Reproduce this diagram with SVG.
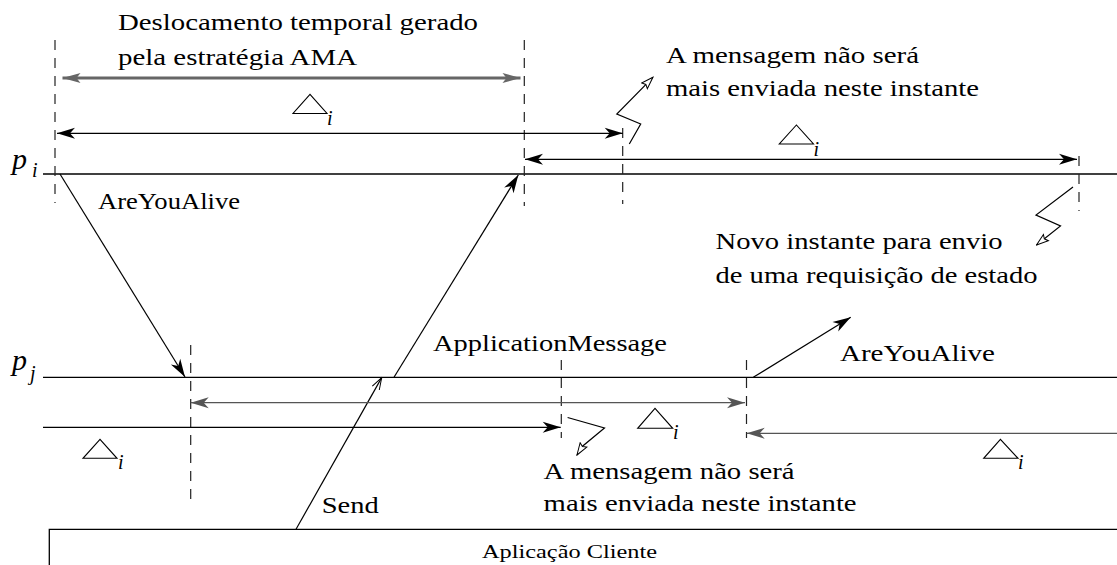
<svg xmlns="http://www.w3.org/2000/svg" width="1117" height="565" viewBox="0 0 1117 565">
<style>
  text { font-family: 'Liberation Serif', 'DejaVu Serif', serif; fill: #000; }
  .t { font-size: 24px; }
  .it { font-style: italic; }
  .small { font-size: 18px; }
  .proc { stroke: #000; stroke-width: 1.3; fill: none; }
  .dash { stroke: #222; stroke-width: 1.2; stroke-dasharray: 10 8; fill: none; }
  .arr { stroke: #000; stroke-width: 1.2; fill: none; }
  .garr { stroke: #555; stroke-width: 1.3; fill: none; }
  .big { stroke: #666; stroke-width: 3; fill: none; }
  .tri { stroke: #000; stroke-width: 1.1; fill: none; }
</style>
<defs>
  <marker id="ah" markerUnits="userSpaceOnUse" viewBox="0 0 20 12" markerWidth="20" markerHeight="12" refX="19" refY="6" orient="auto-start-reverse">
    <path d="M19,6 L1,0.5 L6,6 L1,11.5 Z" fill="#000"/>
  </marker>
  <marker id="ahg" markerUnits="userSpaceOnUse" viewBox="0 0 20 12" markerWidth="20" markerHeight="12" refX="19" refY="6" orient="auto-start-reverse">
    <path d="M19,6 L1,0.5 L6,6 L1,11.5 Z" fill="#555"/>
  </marker>
  <marker id="ahbig" markerUnits="userSpaceOnUse" viewBox="0 0 20 12" markerWidth="20" markerHeight="12" refX="19" refY="6" orient="auto-start-reverse">
    <path d="M19,6 L1,1 L5,6 L1,11 Z" fill="#666"/>
  </marker>
  <marker id="open" markerUnits="userSpaceOnUse" viewBox="0 0 14 10" markerWidth="14" markerHeight="10" refX="13" refY="5" orient="auto">
    <path d="M13,5 L1,1 L3,5 L1,9 Z" fill="#fff" stroke="#000" stroke-width="1"/>
  </marker>
  <marker id="vee" markerUnits="userSpaceOnUse" viewBox="0 0 14 10" markerWidth="14" markerHeight="10" refX="13" refY="5" orient="auto">
    <path d="M1,1 L13,5 L1,9" fill="none" stroke="#000" stroke-width="1"/>
  </marker>
</defs>

<g id="pi">
  <line class="proc" x1="43" y1="174" x2="1117" y2="174"/>
  <text class="it" x="12" y="169" font-size="30">p</text>
  <text class="it" x="32" y="177" font-size="20">i</text>
</g>

<g id="pj">
  <line class="proc" x1="43" y1="377.3" x2="1117" y2="377.3"/>
  <text class="it" x="12" y="370" font-size="30">p</text>
  <text class="it" x="30" y="380" font-size="20">j</text>
</g>

<g id="app-client">
  <path class="proc" d="M49.3,566 V529.3 H1117"/>
  <text class="small" x="482" y="558" textLength="175" lengthAdjust="spacingAndGlyphs">Aplicação Cliente</text>
</g>

<g id="time-marks">
  <line class="dash" x1="55" y1="40" x2="55" y2="203"/>
  <line class="dash" x1="524.3" y1="40" x2="524.3" y2="206"/>
  <line class="dash" x1="622.7" y1="128" x2="622.7" y2="204"/>
  <line class="dash" x1="1079" y1="156" x2="1079" y2="211"/>
  <line class="dash" x1="190.7" y1="345" x2="190.7" y2="506"/>
  <line class="dash" x1="561.3" y1="360" x2="561.3" y2="438"/>
  <line class="dash" x1="746.5" y1="360" x2="746.5" y2="438"/>
</g>

<g id="connectors">
  <line class="big" x1="62.5" y1="78" x2="520.5" y2="78" marker-start="url(#ahbig)" marker-end="url(#ahbig)"/>
  <line class="arr" x1="57" y1="133.3" x2="622.7" y2="133.3" marker-start="url(#ah)" marker-end="url(#ah)"/>
  <line class="arr" x1="525" y1="159.3" x2="1077" y2="159.3" marker-start="url(#ah)" marker-end="url(#ah)"/>
  <line class="arr" x1="60" y1="174" x2="185" y2="377" marker-end="url(#ah)"/>
  <line class="arr" x1="394" y1="377.3" x2="518.3" y2="175" marker-end="url(#ah)"/>
  <line class="arr" x1="296" y1="529.3" x2="381.7" y2="377.6" marker-end="url(#vee)"/>
  <line class="garr" x1="190.7" y1="402.7" x2="745" y2="402.7" marker-start="url(#ahg)" marker-end="url(#ahg)"/>
  <line class="arr" x1="43" y1="427.3" x2="560.7" y2="427.3" marker-end="url(#ah)"/>
  <line class="garr" x1="1117" y1="433.3" x2="746.7" y2="433.3" marker-end="url(#ahg)"/>
  <line class="arr" x1="753.3" y1="377.3" x2="850.7" y2="317.3" marker-end="url(#ah)"/>
  <polyline class="arr" points="629.3,144 640.7,124 616.8,114 652.9,77.3" marker-end="url(#open)"/>
  <polyline class="arr" points="1073,187 1036,215 1060.5,226 1036.5,245" marker-end="url(#open)"/>
  <polyline class="arr" points="567.6,417.5 604.5,428 582.8,446 577,455" marker-end="url(#open)"/>
</g>

<g id="deltas">
  <polygon class="tri" points="310,94.3 293,113.5 327,113.5"/>
  <text class="it" x="327" y="125" font-size="20">i</text>
  <polygon class="tri" points="796.4,125 779.3,144 813.5,144"/>
  <text class="it" x="813.5" y="155.5" font-size="20">i</text>
  <polygon class="tri" points="655,408.3 637.7,428.3 672.7,428.3"/>
  <text class="it" x="673" y="438.5" font-size="20">i</text>
  <polygon class="tri" points="100,439.3 83,458.3 117,458.3"/>
  <text class="it" x="118" y="468.5" font-size="20">i</text>
  <polygon class="tri" points="1000.4,439.3 983.7,458.3 1018,458.3"/>
  <text class="it" x="1018" y="468.5" font-size="20">i</text>
</g>

<g id="labels">
  <text class="t" x="118" y="30" textLength="360" lengthAdjust="spacingAndGlyphs">Deslocamento temporal gerado</text>
  <text class="t" x="118" y="65" textLength="239" lengthAdjust="spacingAndGlyphs">pela estratégia AMA</text>
  <text class="t" x="666" y="63" textLength="253" lengthAdjust="spacingAndGlyphs">A mensagem não será</text>
  <text class="t" x="666" y="96" textLength="313" lengthAdjust="spacingAndGlyphs">mais enviada neste instante</text>
  <text class="t" x="715.5" y="249" textLength="287" lengthAdjust="spacingAndGlyphs">Novo instante para envio</text>
  <text class="t" x="715.5" y="283" textLength="322" lengthAdjust="spacingAndGlyphs">de uma requisição de estado</text>
  <text class="t" x="98" y="209" textLength="142" lengthAdjust="spacingAndGlyphs">AreYouAlive</text>
  <text class="t" x="433" y="351" textLength="234" lengthAdjust="spacingAndGlyphs">ApplicationMessage</text>
  <text class="t" x="840" y="361" textLength="155" lengthAdjust="spacingAndGlyphs">AreYouAlive</text>
  <text class="t" x="543.6" y="479" textLength="251" lengthAdjust="spacingAndGlyphs">A mensagem não será</text>
  <text class="t" x="543.6" y="511" textLength="313" lengthAdjust="spacingAndGlyphs">mais enviada neste instante</text>
  <text class="t" x="321.7" y="513" textLength="57" lengthAdjust="spacingAndGlyphs">Send</text>
</g>
</svg>
